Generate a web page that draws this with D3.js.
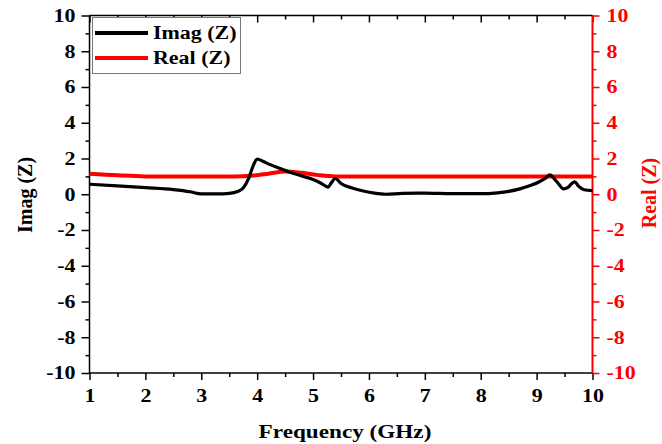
<!DOCTYPE html>
<html>
<head>
<meta charset="utf-8">
<script src="https://cdn.jsdelivr.net/npm/d3@7"></script>
<style>
  body { margin: 0; background: #fff; }
  text { font-family: "Liberation Serif", "Times New Roman", serif; font-weight: bold; }
</style>
</head>
<body>
<div class="canvas"></div>
<script>
// impedance data
const freq = [1.0, 1.5, 2.0, 2.5, 2.8, 3.0, 3.3, 3.5, 3.65, 3.75, 3.85, 3.93, 4.0, 4.1, 4.2, 4.4, 4.6, 4.8, 5.0, 5.15, 5.27, 5.33, 5.4, 5.5, 5.7, 5.9, 6.1, 6.3, 6.6, 7.0, 7.5, 8.0, 8.3, 8.5, 8.7, 8.9, 9.05, 9.15, 9.24, 9.32, 9.4, 9.48, 9.56, 9.63, 9.68, 9.75, 9.85, 10.0];
const imagZ = [0.56, 0.47, 0.37, 0.26, 0.14, 0.02, 0.02, 0.05, 0.15, 0.35, 0.9, 1.6, 1.97, 1.85, 1.7, 1.45, 1.22, 1.02, 0.82, 0.6, 0.4, 0.65, 0.88, 0.6, 0.35, 0.18, 0.06, 0.0, 0.05, 0.06, 0.03, 0.03, 0.08, 0.16, 0.3, 0.5, 0.7, 0.88, 1.08, 0.85, 0.55, 0.3, 0.38, 0.6, 0.7, 0.45, 0.25, 0.2];
const realFreq = [1.0, 1.5, 2.0, 3.0, 3.6, 3.9, 4.2, 4.5, 4.8, 5.1, 5.4, 6.0, 8.0, 10.0];
const realZ = [1.15, 1.06, 1.0, 1.0, 1.0, 1.04, 1.15, 1.27, 1.2, 1.07, 1.0, 1.0, 1.0, 1.0];

const xTicks = [1, 2, 3, 4, 5, 6, 7, 8, 9, 10];
const yTicks = [-10, -8, -6, -4, -2, 0, 2, 4, 6, 8, 10];
const legendNames = ["Imag (Z)", "Real (Z)"];

const width = 662, height = 444;
const plotLeft = 89.5, plotRight = 592.5, plotTop = 15.5, plotBottom = 373;
const red = "#ff0000";
const stretch = 1.22;

const svg = d3.select(".canvas").append("svg")
    .attr("width", width)
    .attr("height", height);
svg.append("rect").attr("width", width).attr("height", height).attr("fill", "#fff");

const x = d3.scaleLinear().domain([1, 10]).range([plotLeft, plotRight]);
const y = d3.scaleLinear().domain([-10, 10]).range([plotBottom, plotTop]);

const xMinor = d3.range(1.5, 10, 1);
const yMinor = d3.range(-9, 10, 2);
const plain = d => String(d); // hyphen minus, like the reference

// axes: major + minor ticks
const drawAxis = (axis, pos, color) => {
    const g = svg.append("g").attr("transform", pos).call(axis);
    g.select(".domain").remove();
    g.selectAll("line").attr("stroke", color).attr("stroke-width", 1.5);
    g.selectAll("text").attr("fill", color).attr("font-size", 18).attr("class", "stretch");
    return g;
};

drawAxis(d3.axisBottom(x).tickValues(xTicks).tickSize(7).tickPadding(9).tickFormat(plain), `translate(0,${plotBottom})`, "#000");
drawAxis(d3.axisBottom(x).tickValues(xMinor).tickSize(4).tickFormat(""), `translate(0,${plotBottom})`, "#000");
drawAxis(d3.axisTop(x).tickValues(xTicks).tickSize(-7).tickFormat(""), `translate(0,${plotTop})`, "#000");
drawAxis(d3.axisTop(x).tickValues(xMinor).tickSize(-4).tickFormat(""), `translate(0,${plotTop})`, "#000");
drawAxis(d3.axisLeft(y).tickValues(yTicks).tickSize(8).tickPadding(6).tickFormat(plain), `translate(${plotLeft},0)`, "#000");
drawAxis(d3.axisLeft(y).tickValues(yMinor).tickSize(4).tickFormat(""), `translate(${plotLeft},0)`, "#000");
drawAxis(d3.axisRight(y).tickValues(yTicks).tickSize(7).tickPadding(7).tickFormat(plain), `translate(${plotRight},0)`, red);
drawAxis(d3.axisRight(y).tickValues(yMinor).tickSize(4).tickFormat(""), `translate(${plotRight},0)`, red);

// frame
svg.append("line").attr("x1", plotLeft).attr("x2", plotRight).attr("y1", plotTop).attr("y2", plotTop).attr("stroke", "#000").attr("stroke-width", 1.5);
svg.append("line").attr("x1", plotLeft).attr("x2", plotRight).attr("y1", plotBottom).attr("y2", plotBottom).attr("stroke", "#000").attr("stroke-width", 1.5);
svg.append("line").attr("x1", plotLeft).attr("x2", plotLeft).attr("y1", plotTop).attr("y2", plotBottom).attr("stroke", "#000").attr("stroke-width", 1.5);
svg.append("line").attr("x1", plotRight).attr("x2", plotRight).attr("y1", plotTop).attr("y2", plotBottom).attr("stroke", red).attr("stroke-width", 2);

// curves
const line = d3.line().curve(d3.curveMonotoneX);
svg.append("path")
    .attr("d", line(realFreq.map((f, i) => [x(f), y(realZ[i])])))
    .attr("fill", "none").attr("stroke", red).attr("stroke-width", 4);
svg.append("path")
    .attr("d", line(freq.map((f, i) => [x(f), y(imagZ[i])])))
    .attr("fill", "none").attr("stroke", "#000").attr("stroke-width", 3.2);

// legend
const legend = svg.append("g");
legend.append("rect").attr("x", 92.5).attr("y", 17.5).attr("width", 148).attr("height", 56)
    .attr("fill", "#fff").attr("stroke", "#777").attr("stroke-width", 1);
legendNames.forEach((name, i) => {
    const ly = 33 + i * 25;
    legend.append("line").attr("x1", 95).attr("x2", 148).attr("y1", ly).attr("y2", ly)
        .attr("stroke", i === 0 ? "#000" : red).attr("stroke-width", 4);
    legend.append("text").attr("x", 153).attr("y", ly + 6).attr("font-size", 18)
        .attr("class", "stretch").text(name);
});

// titles
svg.append("text").attr("x", (plotLeft + plotRight) / 2 + 4).attr("y", 438).attr("text-anchor", "middle")
    .attr("font-size", 19).attr("class", "stretch").text("Frequency (GHz)");
svg.append("text").attr("transform", "translate(32,195) rotate(-90)").attr("text-anchor", "middle")
    .attr("font-size", 20).text("Imag (Z)");
svg.append("text").attr("transform", "translate(656,193) rotate(-90)").attr("text-anchor", "middle")
    .attr("font-size", 20).attr("fill", red).text("Real (Z)");

// horizontal stretch of the text, as in the reference
svg.selectAll("text.stretch").each(function () {
    const w = this.getComputedTextLength();
    d3.select(this).attr("textLength", w * stretch).attr("lengthAdjust", "spacingAndGlyphs");
});
</script>
</body>
</html>
